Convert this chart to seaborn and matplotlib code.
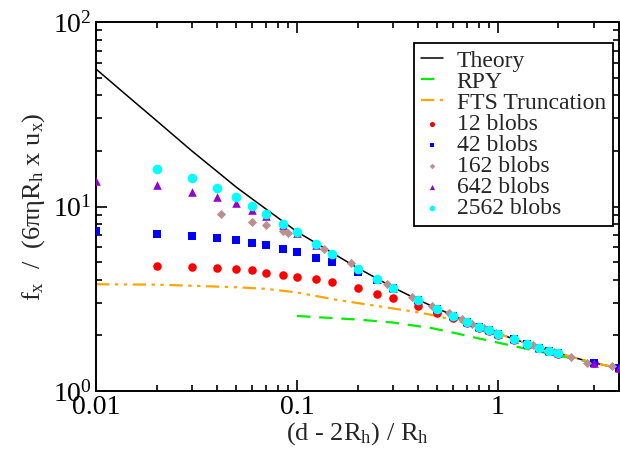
import numpy as np
import pandas as pd
import matplotlib
matplotlib.use("Agg")
import matplotlib.pyplot as plt
import seaborn as sns
from matplotlib.ticker import LogLocator, LogFormatterMathtext, NullFormatter

# ---------------- data ----------------
theory_x = [0.01, 0.015, 0.02, 0.03, 0.04, 0.05, 0.07, 0.1, 0.15, 0.2, 0.3, 0.4, 0.5, 0.7, 1.0, 1.5, 2.0, 3.0, 4.0]
theory_y = [55.6, 38.1, 29.2, 20.0, 15.5, 12.7, 9.7, 7.3, 5.6, 4.65, 3.65, 3.12, 2.80, 2.38, 2.05, 1.76, 1.60, 1.42, 1.33]

rpy_x = [0.1, 0.2, 0.3, 0.47, 0.6, 0.87, 1.43, 2.16, 3.0, 4.0]
rpy_y = [2.55, 2.44, 2.35, 2.19, 2.07, 1.89, 1.68, 1.53, 1.42, 1.33]

fts_x = [0.01, 0.02, 0.03, 0.05, 0.07, 0.1, 0.16, 0.25, 0.4, 0.5, 0.6, 0.7, 0.8, 1.0, 1.5, 2.0, 3.0, 4.0]
fts_y = [3.79, 3.77, 3.72, 3.65, 3.58, 3.42, 3.11, 2.89, 2.67, 2.55, 2.42, 2.32, 2.23, 2.05, 1.76, 1.60, 1.42, 1.33]

b12_x = [0.02, 0.03, 0.04, 0.05, 0.06, 0.07, 0.085, 0.1, 0.125, 0.15, 0.2, 0.25, 0.3, 0.4, 0.5,
         0.6, 0.7, 0.8, 0.9, 1.0, 1.2, 1.4, 1.6, 1.8, 2.0, 3.0, 4.0]
b12_y = [4.76, 4.68, 4.62, 4.57, 4.51, 4.38, 4.27, 4.17, 4.03, 3.88, 3.62, 3.37, 3.19, 2.90, 2.66,
         2.48, 2.33, 2.20, 2.11, 2.02, 1.90, 1.79, 1.71, 1.64, 1.59, 1.42, 1.34]

b42_x = [0.01, 0.02, 0.03, 0.04, 0.05, 0.06, 0.07, 0.085, 0.1, 0.125, 0.15, 0.2, 0.25, 0.3, 0.4, 0.5,
         0.6, 0.7, 0.8, 0.9, 1.0, 1.2, 1.4, 1.6, 1.8, 2.0, 3.0, 4.0]
b42_y = [7.36, 7.12, 6.92, 6.73, 6.56, 6.37, 6.18, 5.90, 5.67, 5.28, 4.98, 4.40, 3.98, 3.62, 3.10, 2.77,
         2.56, 2.37, 2.23, 2.14, 2.04, 1.91, 1.80, 1.72, 1.65, 1.60, 1.42, 1.34]

b162_x = [0.042, 0.06, 0.07, 0.085, 0.09, 0.137, 0.186, 0.279, 0.375, 0.472, 0.568, 0.66, 0.746, 0.853,
          0.976, 1.2, 1.5, 1.9, 2.3, 2.76, 3.69]
b162_y = [9.07, 8.24, 7.91, 7.37, 7.21, 5.86, 4.92, 3.81, 3.25, 2.89, 2.64, 2.45, 2.31, 2.19,
          2.07, 1.92, 1.77, 1.63, 1.52, 1.41, 1.37]

b642_x = [0.01, 0.02, 0.03, 0.04, 0.05, 0.06, 0.07, 0.085, 0.1, 0.125, 0.15, 0.2, 0.25, 0.3, 0.4, 0.5,
          0.6, 0.7, 0.8, 0.9, 1.0, 1.2, 1.4, 1.6, 1.8, 2.0, 3.0, 4.0]
b642_y = [13.8, 13.0, 12.0, 11.2, 10.4, 9.6, 8.91, 7.95, 7.22, 6.22, 5.53, 4.60, 4.03, 3.63, 3.11, 2.77,
          2.56, 2.37, 2.23, 2.14, 2.04, 1.91, 1.80, 1.72, 1.65, 1.60, 1.42, 1.34]

b2562_x = [0.02, 0.03, 0.04, 0.05, 0.06, 0.07, 0.085, 0.1, 0.125, 0.15, 0.2, 0.25, 0.3, 0.4, 0.5,
           0.6, 0.7, 0.8, 0.9, 1.0, 1.2, 1.4, 1.6, 1.8, 2.0]
b2562_y = [15.9, 14.2, 12.6, 11.3, 10.1, 9.14, 8.07, 7.25, 6.24, 5.55, 4.60, 4.03, 3.63, 3.11, 2.77,
           2.56, 2.37, 2.23, 2.14, 2.04, 1.91, 1.80, 1.72, 1.65, 1.60]

# ---------------- style ----------------
sns.set_theme(style="ticks")
plt.rcParams["font.family"] = ["Liberation Serif", "DejaVu Serif"]
plt.rcParams["mathtext.fontset"] = "custom"
plt.rcParams["mathtext.rm"] = "Liberation Serif"
plt.rcParams["mathtext.it"] = "Liberation Serif:italic"
plt.rcParams["mathtext.bf"] = "Liberation Serif:bold"

FS_TICK = 20
FS_LAB = 19
FS_LEG = 17
fig = plt.figure(figsize=(6.2, 4.59), dpi=100)
ax = fig.add_axes([96 / 620, 1 - 391 / 459, 523 / 620, 369 / 459])

lw = 1.1
sns.lineplot(x=theory_x, y=theory_y, ax=ax, color="black", lw=lw, label="Theory",
             estimator=None, zorder=2)
sns.lineplot(x=rpy_x, y=rpy_y, ax=ax, color="#00ee00", lw=1.6, label="RPY",
             estimator=None, zorder=2)
sns.lineplot(x=fts_x, y=fts_y, ax=ax, color="#ffa500", lw=1.6, label="FTS Truncation",
             estimator=None, zorder=2)
ax.lines[1].set_dashes([6, 4])
ax.lines[2].set_dashes([6, 2.5, 1.5, 2.5, 1.5, 2.5])

sns.scatterplot(x=b12_x, y=b12_y, ax=ax, color="#ff0000", marker="o", s=38, linewidth=0,
                label="12 blobs", zorder=3)
sns.scatterplot(x=b42_x, y=b42_y, ax=ax, color="#0000ff", marker="s", s=30, linewidth=0,
                label="42 blobs", zorder=3)
sns.scatterplot(x=b162_x, y=b162_y, ax=ax, color="#bc8f8f", marker="D", s=22, linewidth=0,
                label="162 blobs", zorder=3)
sns.scatterplot(x=b642_x, y=b642_y, ax=ax, color="#9400d3", marker="^", s=38, linewidth=0,
                label="642 blobs", zorder=3)
sns.scatterplot(x=b2562_x, y=b2562_y, ax=ax, color="#00ffff", marker="o", s=48, linewidth=0,
                label="2562 blobs", zorder=3)

ax.set_xscale("log")
ax.set_yscale("log")
ax.set_xlim(0.01, 4.0)
ax.set_ylim(1, 100)

ax.xaxis.set_major_locator(LogLocator(base=10))
ax.xaxis.set_minor_locator(LogLocator(base=10, subs=np.arange(2, 10)))
ax.yaxis.set_major_locator(LogLocator(base=10))
ax.yaxis.set_minor_locator(LogLocator(base=10, subs=np.arange(2, 10)))
ax.xaxis.set_minor_formatter(NullFormatter())
ax.yaxis.set_minor_formatter(NullFormatter())
ax.set_xticks([0.01, 0.1, 1])
ax.set_xticklabels(["0.01", "0.1", "1"])
ax.yaxis.set_major_formatter(LogFormatterMathtext())

for s in ax.spines.values():
    s.set_linewidth(1.4)
    s.set_color("black")
ax.tick_params(which="both", direction="in", top=True, right=True, colors="black",
               labelsize=FS_TICK, width=1.2)
ax.tick_params(which="major", length=8, pad=3)
ax.tick_params(which="minor", length=4)

ax.set_xlabel(r"(d - 2R$_\mathregular{h}$) / R$_\mathregular{h}$", fontsize=FS_LAB, labelpad=0)
ax.set_ylabel(r"f$_\mathregular{x}$  /  (6πηR$_\mathregular{h}$ x u$_\mathregular{x}$)",
              fontsize=FS_LAB, labelpad=4)

leg = ax.legend(loc="upper right", bbox_to_anchor=(0.9885, 0.943), borderaxespad=0,
                fontsize=FS_LEG, frameon=True, fancybox=False, framealpha=1,
                edgecolor="black", handlelength=0.9, handletextpad=0.6,
                labelspacing=-0.02, borderpad=0.3, markerscale=0.6)
leg.get_frame().set_linewidth(1.3)

fig.savefig("out.png", dpi=100)
